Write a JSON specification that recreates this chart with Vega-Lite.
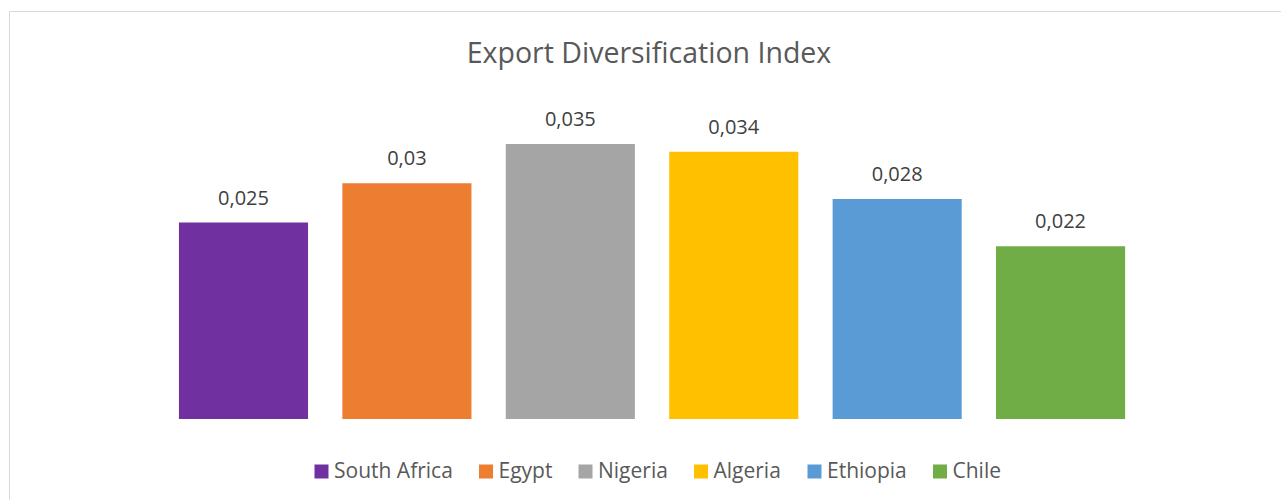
{
  "$schema": "https://vega.github.io/schema/vega-lite/v6.json",
  "autosize": "none",
  "width": 1273,
  "height": 500,
  "padding": {"left": 9, "top": 11, "right": 0, "bottom": 0},
  "background": "white",
  "config": {
    "view": {"stroke": "#D9D9D9", "strokeWidth": 1},
    "font": "Open Sans"
  },
  "title": {
    "text": "Export Diversification Index",
    "fontSize": 28.5,
    "font": "Open Sans",
    "fontWeight": "normal",
    "color": "#595959",
    "anchor": "middle",
    "offset": -80,
    "baseline": "alphabetic",
    "dx": 3.5
  },
  "data": {
    "values": [
      {"country": "South Africa", "value": 0.025, "label": "0,025"},
      {"country": "Egypt", "value": 0.03, "label": "0,03"},
      {"country": "Nigeria", "value": 0.035, "label": "0,035"},
      {"country": "Algeria", "value": 0.034, "label": "0,034"},
      {"country": "Ethiopia", "value": 0.028, "label": "0,028"},
      {"country": "Chile", "value": 0.022, "label": "0,022"}
    ]
  },
  "encoding": {
    "x": {
      "field": "country",
      "type": "nominal",
      "sort": null,
      "axis": null,
      "scale": {"paddingInner": 0.21, "paddingOuter": 1, "align": 0.52}
    },
    "y": {
      "field": "value",
      "type": "quantitative",
      "axis": null,
      "scale": {"domain": [-0.01171, 0.05193], "nice": false, "zero": false}
    }
  },
  "layer": [
    {
      "mark": {"type": "bar"},
      "encoding": {
        "y2": {"datum": 0},
        "color": {
          "field": "country",
          "type": "nominal",
          "sort": null,
          "scale": {
            "domain": ["South Africa", "Egypt", "Nigeria", "Algeria", "Ethiopia", "Chile"],
            "range": ["#7030A0", "#ED7D31", "#A5A5A5", "#FFC000", "#5B9BD5", "#70AD47"]
          },
          "legend": {
            "title": null,
            "orient": "none",
            "legendX": 302,
            "legendY": 450,
            "direction": "horizontal",
            "gridAlign": "none",
            "symbolType": "square",
            "symbolSize": 196,
            "symbolStrokeWidth": 0,
            "symbolOpacity": 1,
            "labelFontSize": 21,
            "labelFont": "Open Sans",
            "labelColor": "#595959",
            "columnPadding": 22.5,
            "labelOffset": 2,
            "padding": 0
          }
        }
      }
    },
    {
      "mark": {"type": "text", "dy": -18, "baseline": "alphabetic", "fontSize": 20, "color": "#404040", "font": "Open Sans"},
      "encoding": {"text": {"field": "label"}}
    }
  ]
}
